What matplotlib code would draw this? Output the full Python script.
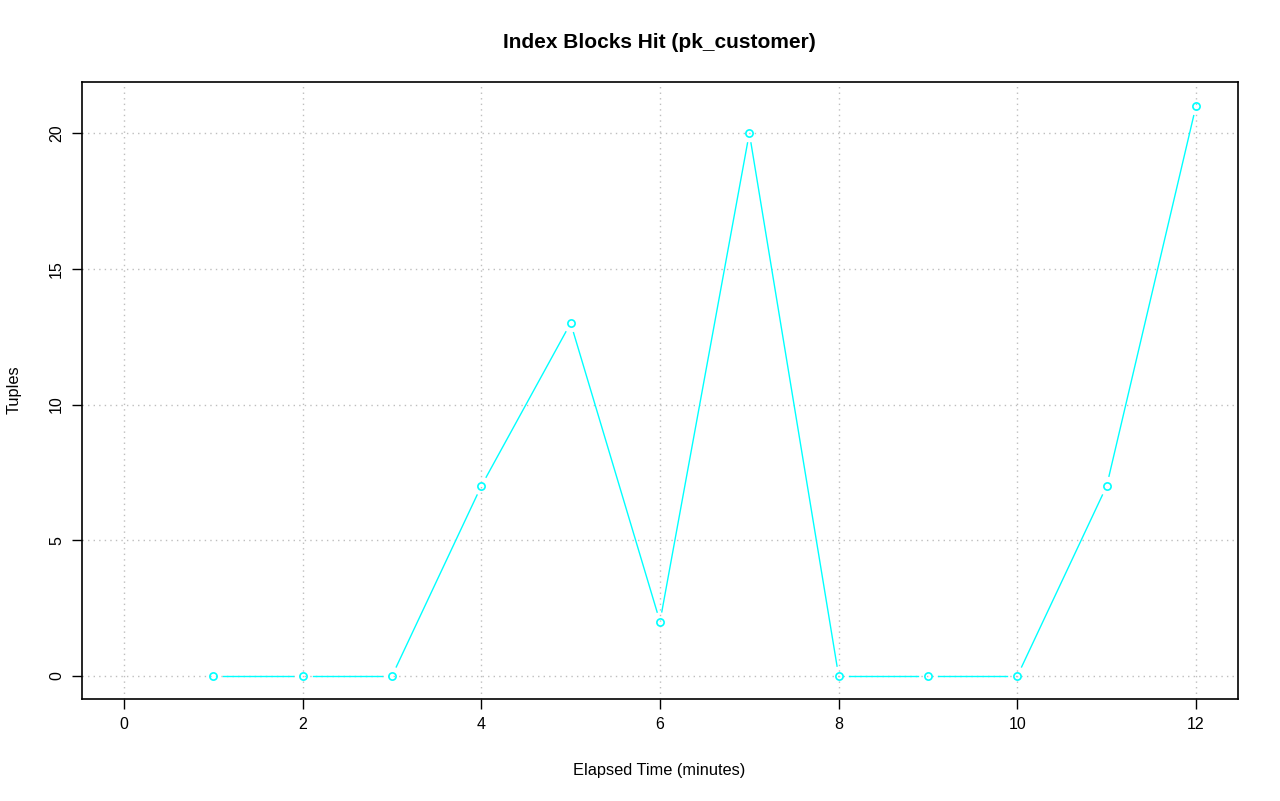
import numpy as np
import matplotlib
matplotlib.use("Agg")
import matplotlib.pyplot as plt

plt.rcParams['font.family'] = ['Liberation Sans', 'DejaVu Sans']

# data
minutes = [1, 2, 3, 4, 5, 6, 7, 8, 9, 10, 11, 12]
tuples = [0, 0, 0, 7, 13, 2, 20, 0, 0, 0, 7, 21]
x_ticks = [0, 2, 4, 6, 8, 10, 12]
y_ticks = [0, 5, 10, 15, 20]

fig = plt.figure(figsize=(12.8, 8.01), dpi=100)
ax = fig.add_axes([82/1280, 1 - 699/801, (1238-82)/1280, (699-82)/801])
ax.set_xlim(-0.47, 12.47)
ax.set_ylim(-0.847, 21.88)

ax.set_xticks(x_ticks)
ax.set_yticks(y_ticks)
ax.grid(True, color='#bebebe', linestyle=(0, (1, 3)), linewidth=1)
ax.set_axisbelow(True)
for s in ax.spines.values():
    s.set_linewidth(1.2)
ax.tick_params(direction='out', length=7, width=1, labelsize=11.5, pad=6)
plt.setp(ax.get_yticklabels(), rotation=90, va='center')

# R-style type='b': line segments with a gap around each point
color = '#00ffff'
gap = 10  # px
fig.canvas.draw()
pts = ax.transData.transform(np.column_stack([minutes, tuples]))
inv = ax.transData.inverted()
for i in range(len(pts) - 1):
    p0, p1 = pts[i], pts[i + 1]
    d = p1 - p0
    L = np.hypot(*d)
    if L <= 2 * gap:
        continue
    u = d / L
    a, b = inv.transform([p0 + u * gap, p1 - u * gap])
    ax.plot([a[0], b[0]], [a[1], b[1]], color=color, linewidth=1.0)
ax.plot(minutes, tuples, linestyle='none', marker='o', markersize=5.2,
        markerfacecolor='none', markeredgecolor=color, markeredgewidth=1.2)

fig.text(659/1280, 1 - 43/801, 'Index Blocks Hit (pk_customer)', ha='center', va='center',
         fontsize=15, fontweight='bold')
fig.text(659/1280, 1 - 770/801, 'Elapsed Time (minutes)', ha='center', va='center', fontsize=11.8)
fig.text(14/1280, 1 - 390/801, 'Tuples', ha='center', va='center', rotation=90, fontsize=11.8)

fig.savefig('out.png', dpi=100)
